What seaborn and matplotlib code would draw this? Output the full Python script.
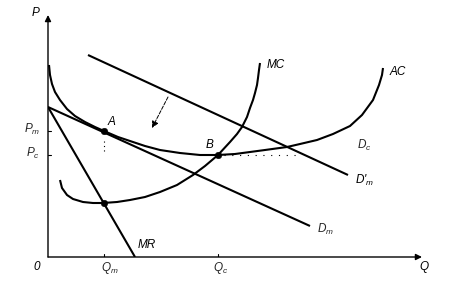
import matplotlib
matplotlib.use("Agg")
import matplotlib.pyplot as plt
import seaborn as sns
import pandas as pd

# ---- data (arbitrary units) ----
ac_q = [1, 2, 4, 7, 12, 19, 27, 37, 47, 56, 70, 82, 97, 112, 132, 152, 170, 187,
        202, 217, 239, 252, 269, 285, 302, 314, 325, 331, 334, 335]
ac_p = [192, 182, 173, 165, 157, 148, 141, 135, 130, 126, 120, 116, 111, 107, 104,
        102, 102, 103, 105, 107, 110, 113, 117, 123, 131, 142, 157, 172, 182, 189]

mc_q = [12, 14, 19, 25, 35, 45, 55, 69, 82, 97, 112, 129, 145, 157, 170, 182, 189,
        194, 199, 202, 205, 207, 209, 210, 211, 212]
mc_p = [77, 69, 62, 58, 55, 54, 54, 55, 57, 60, 65, 72, 82, 91, 102, 115, 123,
        130, 140, 149, 157, 164, 172, 179, 187, 194]

dm_q = [0, 262]
dm_p = [150, 31]

mr_q = [0, 87]
mr_p = [150, 0]

dmp_q = [40, 300]
dmp_p = [202, 82]

pts_q = [56, 170, 56]
pts_p = [126, 102, 54]

qm, qc = 56, 170
pm, pc = 126, 102

sns.set_theme(style="white")
plt.rcParams["font.family"] = ["Liberation Sans", "DejaVu Sans"]
plt.rcParams["mathtext.fontset"] = "custom"
plt.rcParams["mathtext.it"] = "Liberation Sans:italic"
plt.rcParams["mathtext.rm"] = "Liberation Sans"

W, H = 462, 289
fig = plt.figure(figsize=(W / 100, H / 100), dpi=100)
ax = fig.add_axes([48 / W, (H - 257) / H, (422 - 48) / W, (257 - 15) / H])
ax.set_xlim(0, 374)
ax.set_ylim(0, 242)
for s in ax.spines.values():
    s.set_visible(False)
ax.set_xticks([])
ax.set_yticks([])

lw = 1.5
col = "black"

def curve(q, p):
    df = pd.DataFrame({"q": q, "p": p})
    sns.lineplot(data=df, x="q", y="p", sort=False, estimator=None, color=col,
                 lw=lw, ax=ax)
    ax.lines[-1].set_solid_joinstyle("round")
    ax.lines[-1].set_solid_capstyle("butt")

curve(ac_q, ac_p)
curve(mc_q, mc_p)
curve(dm_q, dm_p)
curve(mr_q, mr_p)
curve(dmp_q, dmp_p)
ax.set_xlabel("")
ax.set_ylabel("")

sns.scatterplot(x=pts_q, y=pts_p, color=col, s=22, edgecolor=col, ax=ax, zorder=5)

# faint dotted guides
ax.plot([qm, qm], [pm - 10, pm - 20], ls=(0, (1, 3)), color=col, lw=0.8)
ax.plot([qc + 6, 250], [pc, pc], ls=(0, (1, 6)), color=col, lw=0.8)

# axes with arrows
ax.annotate("", xy=(374, 0), xytext=(0, 0), annotation_clip=False,
            arrowprops=dict(arrowstyle="-|>", color=col, lw=1.0,
                            mutation_scale=9, shrinkA=0, shrinkB=0))
ax.annotate("", xy=(0, 242), xytext=(0, 0), annotation_clip=False,
            arrowprops=dict(arrowstyle="-|>", color=col, lw=1.0,
                            mutation_scale=9, shrinkA=0, shrinkB=0))
# ticks
for q in (qm, qc):
    ax.plot([q, q], [0, 3], color=col, lw=0.8)
for p in (pm, pc):
    ax.plot([0, 3], [p, p], color=col, lw=0.8)

# shift arrow
ax.annotate("", xy=(104, 129), xytext=(120, 160),
            arrowprops=dict(arrowstyle="-|>", color=col, lw=0.7, ls="--",
                            mutation_scale=10, shrinkA=0, shrinkB=0))

fs = 8.5
kw = dict(fontsize=fs, color=col, style="italic")
ax.text(219, 192, "MC", ha="left", va="center", **kw)
ax.text(342, 185, "AC", ha="left", va="center", **kw)
ax.text(309, 112, "$D_c$", ha="left", va="center", fontsize=fs)
ax.text(307, 77, "$D$'$_m$", ha="left", va="center", **kw)
ax.text(269, 28, "$D_m$", ha="left", va="center", fontsize=fs)
ax.text(90, 12, "MR", ha="left", va="center", **kw)
ax.text(64, 135, "A", ha="center", va="center", **kw)
ax.text(162, 112, "B", ha="center", va="center", **kw)
ax.text(-12, 244, "P", ha="center", va="center", **kw)
ax.text(-11, -10, "0", ha="center", va="center", **kw)
ax.text(376, -10, "Q", ha="center", va="center", **kw)
ax.text(62, -11, "$Q_m$", ha="center", va="center", fontsize=fs)
ax.text(173, -11, "$Q_c$", ha="center", va="center", fontsize=fs)
ax.text(-8, 128, "$P_m$", ha="right", va="center", fontsize=fs)
ax.text(-8, 104, "$P_c$", ha="right", va="center", fontsize=fs)

fig.savefig("out.png", dpi=100)
